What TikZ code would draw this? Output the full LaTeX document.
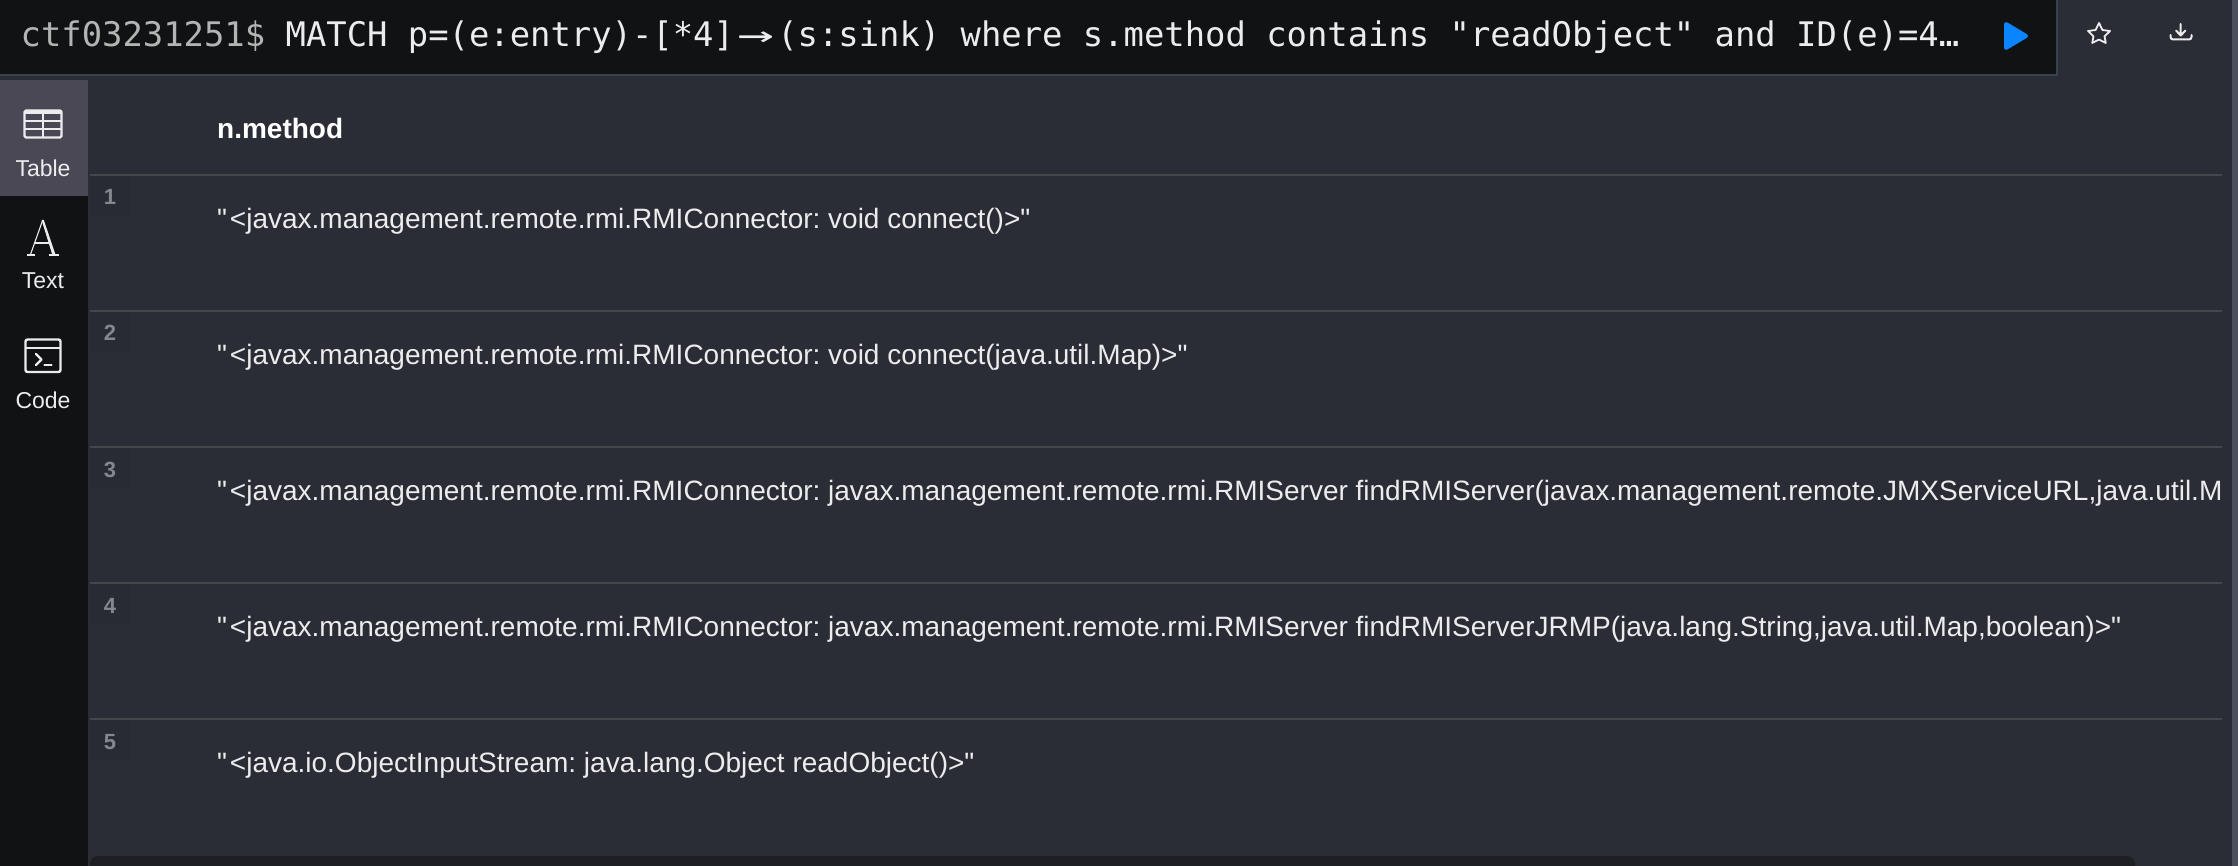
\documentclass[tikz,border=0pt]{standalone}
\usepackage{fontspec}
\setmainfont{Liberation Sans}[Ligatures=TeXOff]
\newfontfamily\monof{DejaVu Sans Mono}
\newcommand{\dq}{"}
\newcommand{\dqo}{"\kern3pt\relax}
\definecolor{bg}{HTML}{2A2D35}
\definecolor{barblack}{HTML}{111213}
\definecolor{barborder}{HTML}{36424E}
\definecolor{tabsel}{HTML}{4A4855}
\definecolor{rule}{HTML}{45474D}
\definecolor{numgray}{HTML}{85878C}
\definecolor{txt}{HTML}{ECECEE}
\definecolor{prompt}{HTML}{B4B4B4}
\definecolor{playblue}{HTML}{0A84FF}
\definecolor{edgestrip}{HTML}{4B505C}
\definecolor{scrollbar}{HTML}{1E1F24}
\tikzset{
  x=1pt,y=-1pt,
  cell/.style={inner sep=0pt,outer sep=0pt,anchor=base west,text=txt,font=\fontsize{28}{28}\selectfont\frenchspacing},
  hdr/.style={inner sep=0pt,anchor=base west,text=white,font=\fontsize{28}{28}\selectfont\bfseries},
  rownum/.style={inner sep=0pt,anchor=base,text=numgray,font=\fontsize{22}{22}\selectfont\bfseries},
  tablab/.style={inner sep=0pt,anchor=base,text=txt,font=\fontsize{23}{23}\selectfont},
  rowline/.style={draw=rule,line width=2pt},
  icon/.style={draw=txt,line width=2.4pt,line join=round,line cap=round},
  thinicon/.style={draw=txt,line width=1.8pt,line join=round,line cap=round},
}
\begin{document}
\begin{tikzpicture}
\useasboundingbox (0,0) rectangle (2238,866);
\fill[bg] (0,0) rectangle (2238,866);
% right strip
\fill[edgestrip] (2232,0) rectangle (2238,866);
% top bar
\fill[barborder] (0,0) rectangle (2058,76);
\fill[barblack] (0,0) rectangle (2056,74);
% side bar
\fill[barblack] (0,80) rectangle (88,866);
\fill[tabsel] (0,80) rectangle (88,196);
% bottom scroll bar
\fill[scrollbar,rounded corners=8pt] (90,856) rectangle (2135,880);
% rows
\foreach \ya in {175,311,447,583,719}{
  \fill[black,opacity=.03] (91,\ya) rectangle (130,\ya+42);
  \draw[rowline] (90,\ya) -- (2222,\ya);
}
% query
\node[inner sep=0pt,anchor=base west,font=\fontsize{33.85}{34}\monof] (query) at (20.5,47)
  {\textcolor{prompt}{ctf03231251\$} \textcolor{txt}{MATCH p=(e:entry)-[*4]\makebox[43.3pt]{\scalebox{1.8}[1]{→}}(s:sink) where s.method contains "readObject" and ID(e)=4…}};
% play
\fill[playblue,draw=playblue,line width=4pt,line join=round] (2006,24) -- (2026,36) -- (2006,48) -- cycle;
% star
\draw[thinicon] (2099,23) -- (2102.4,30) -- (2110,31) -- (2104.5,36.4) -- (2105.8,43) -- (2099,39.6) -- (2092.2,43) -- (2093.5,36.4) -- (2088,31) -- (2095.6,30) -- cycle;
% download
\draw[thinicon,line width=2pt] (2180.7,24) -- (2180.7,35) (2176,30.5) -- (2180.7,35.5) -- (2185.4,30.5);
\draw[thinicon,line width=2pt] (2170.5,35) -- (2170.5,37) arc[start angle=180,end angle=90,radius=2.5] -- (2189,39.5) arc[start angle=90,end angle=0,radius=2.5] -- (2191.5,35);
% table icon
\draw[icon,rounded corners=1.5pt] (24.5,110.5) rectangle (61.5,137.5);
\fill[txt] (24.5,110.5) rectangle (61.5,114);
\draw[icon,line width=2pt,line cap=butt] (24.5,121) -- (61.5,121) (24.5,129.3) -- (61.5,129.3) (43,112) -- (43,137);
% A icon
\draw[txt,line width=1.1pt,line join=round] (42.4,221) -- (30.5,254.5);
\fill[txt] (41.6,220) -- (43.8,220) -- (55.6,255) -- (52.4,255) -- cycle;
\draw[txt,line width=1.5pt] (27,255.2) -- (34.5,255.2) (48.5,255.2) -- (59,255.2) (34,243) -- (49.5,243);
% code icon
\draw[icon,rounded corners=2pt] (25.5,339.5) rectangle (60.5,372);
\draw[icon,line cap=butt] (25.5,348) -- (60.5,348);
\draw[icon] (36,354) -- (41.5,359.5) -- (36,365);
\draw[icon] (44.5,365) -- (51.5,365);
% sidebar labels
\node[tablab] (ltable) at (43,177) {Table};
\node[tablab] (ltext) at (43,289) {Text};
\node[tablab] (lcode) at (43,409) {Code};
% header
\node[hdr] (head) at (217,139) {n.method};
% row numbers
\node[rownum] (n1) at (110,205) {1};
\node[rownum] (n2) at (110,341) {2};
\node[rownum] (n3) at (110,477) {3};
\node[rownum] (n4) at (110,613) {4};
\node[rownum] (n5) at (110,749) {5};
% row texts
\begin{scope}
\clip (90,440) rectangle (2222,540);
\node[cell] (r3) at (217,500) {\dqo<javax.management.remote.rmi.RMIConnector: javax.management.remote.rmi.RMIServer findRMIServer(javax.management.remote.JMXServiceURL,java.util.Ma};
\end{scope}
\node[cell] (r1) at (217,228.7) {\dqo<javax.management.remote.rmi.RMIConnector: void connect()>\dq};
\node[cell] (r2) at (217,364.7) {\dqo<javax.management.remote.rmi.RMIConnector: void connect(java.util.Map)>\dq};
\node[cell] (r4) at (217,636) {\dqo<javax.management.remote.rmi.RMIConnector: javax.management.remote.rmi.RMIServer findRMIServerJRMP(java.lang.String,java.util.Map,boolean)>\dq};
\node[cell] (r5) at (217,772) {\dqo<java.io.ObjectInputStream: java.lang.Object readObject()>\dq};
\end{tikzpicture}
\end{document}
